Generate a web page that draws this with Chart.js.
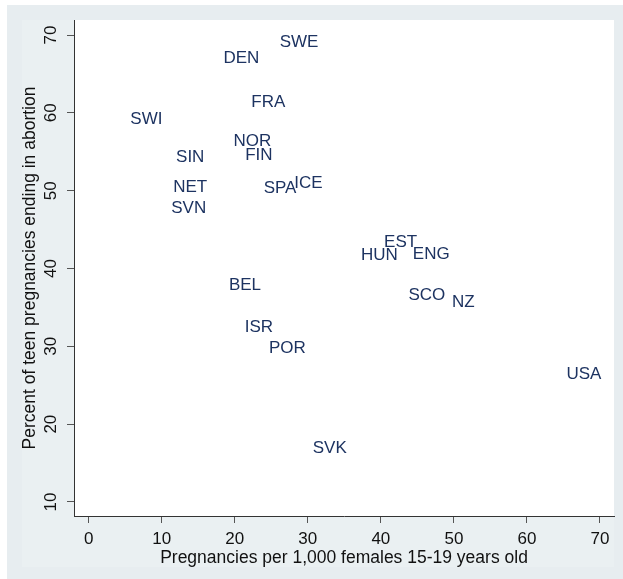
<!DOCTYPE html>
<html>
<head>
<meta charset="utf-8">
<script src="https://cdn.jsdelivr.net/npm/chart.js@4"></script>
<style>
  html, body { margin: 0; padding: 0; background: #ffffff; }
  #wrap { width: 623px; height: 579px; }
</style>
</head>
<body>
<div id="wrap"><canvas id="teenChart" width="623" height="579"></canvas></div>
<script>
// country codes, pregnancies per 1,000 females 15-19, % ending in abortion
const countries = ["SWE", "DEN", "FRA", "SWI", "NOR", "FIN", "SIN", "NET", "SPA", "ICE", "SVN",
    "BEL", "ISR", "POR", "SVK", "USA", "SCO", "NZ", "HUN", "EST", "ENG"];
const pregRates = [28.8, 20.9, 24.6, 7.9, 22.4, 23.3, 13.9, 13.9, 26.2, 30.1, 13.7,
    21.4, 23.3, 27.2, 33.0, 67.8, 46.3, 51.3, 39.8, 42.7, 46.9];
const abortPct = [69.0, 67.0, 61.4, 59.2, 56.4, 54.5, 54.3, 50.4, 50.3, 51.0, 47.7,
    37.9, 32.4, 29.7, 16.9, 26.4, 36.6, 35.7, 41.7, 43.4, 41.8];
const xTicks = [0, 10, 20, 30, 40, 50, 60, 70];
const yTicks = [10, 20, 30, 40, 50, 60, 70];

const FONT = "'Liberation Sans', Arial, sans-serif";

const bgPlugin = {
    id: "bg",
    beforeDraw(chart) {
        const c = chart.ctx, a = chart.chartArea;
        c.save();
        c.fillStyle = "#e7edf0";
        c.fillRect(7, 5, 616, 574);
        c.fillStyle = "#eaf0f2";
        c.fillRect(22, 20, 592, 547);
        c.fillStyle = "#ffffff";
        c.fillRect(a.left, a.top, a.right - a.left, a.bottom - a.top);
        c.restore();
    }
};

const labelPlugin = {
    id: "labels",
    afterDatasetsDraw(chart) {
        const c = chart.ctx;
        const meta = chart.getDatasetMeta(0);
        c.save();
        c.font = "17px " + FONT;
        c.fillStyle = "#1d3361";
        c.textAlign = "center";
        c.textBaseline = "middle";
        meta.data.forEach(function (pt, i) {
            c.fillText(countries[i], pt.x, pt.y);
        });
        // y tick labels, rotated like the original
        const ys = chart.scales.y;
        c.fillStyle = "#111111";
        ys.ticks.forEach(function (t) {
            const py = ys.getPixelForValue(t.value);
            c.save();
            c.translate(51, py);
            c.rotate(-Math.PI / 2);
            c.fillText(String(t.value), 0, 0);
            c.restore();
        });
        c.restore();
    }
};

const ctx = document.getElementById("teenChart").getContext("2d");
const teenChart = new Chart(ctx, {
    type: "scatter",
    data: {
        datasets: [{
            data: pregRates.map((x, i) => ({ x: x, y: abortPct[i] })),
            pointRadius: 0,
            pointHoverRadius: 0
        }]
    },
    options: {
        responsive: false,
        animation: false,
        layout: { padding: { top: 20, right: 9, left: 0, bottom: 0 } },
        plugins: { legend: { display: false }, tooltip: { enabled: false } },
        scales: {
            x: {
                type: "linear",
                min: -2.01,
                max: 71.92,
                afterBuildTicks: (s) => { s.ticks = xTicks.map(v => ({ value: v })); },
                afterFit: (s) => { s.height = 63; },
                grid: { drawOnChartArea: false, drawTicks: true, tickLength: 7, color: "#555555" },
                border: { display: true, color: "#333333", width: 1 },
                ticks: { color: "#111111", font: { family: FONT, size: 17 }, padding: 6, maxRotation: 0 },
                title: {
                    display: true,
                    text: "Pregnancies per 1,000 females 15-19 years old",
                    color: "#111111",
                    font: { family: FONT, size: 17.5 },
                    padding: { top: 0, bottom: 10 }
                }
            },
            y: {
                type: "linear",
                min: 8.2,
                max: 71.93,
                afterBuildTicks: (s) => { s.ticks = yTicks.map(v => ({ value: v })); },
                afterFit: (s) => { s.width = 74; },
                grid: { drawOnChartArea: false, drawTicks: true, tickLength: 7, color: "#555555" },
                border: { display: true, color: "#333333", width: 1 },
                ticks: { display: false },
                title: {
                    display: true,
                    text: "Percent of teen pregnancies ending in abortion",
                    color: "#111111",
                    font: { family: FONT, size: 17.5 },
                    padding: { top: 20, bottom: 0 }
                }
            }
        }
    },
    plugins: [bgPlugin, labelPlugin]
});
</script>
</body>
</html>
